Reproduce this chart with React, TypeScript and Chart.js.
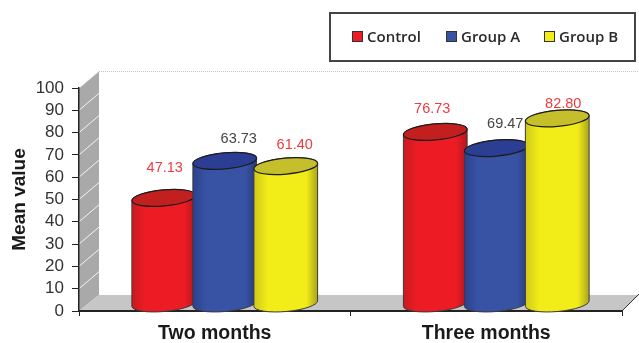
import { useEffect, useRef } from "react";
import { Chart, registerables } from "chart.js";

Chart.register(...registerables);

const categories = ["Two months", "Three months"];
const controlValues = [47.13, 76.73];
const groupAValues = [63.73, 69.47];
const groupBValues = [61.4, 82.8];
const yTicks = [0, 100];

const DEPTH_X = 20;
const DEPTH_Y = 16;
const SANS = '"Liberation Sans", Arial, sans-serif';

// Shade tables for the cylinders: edge, body, right edge, lid.
const shades: Record<string, [string, string, string, string]> = {
  "#ed1c24": ["#c81a20", "#ed1c24", "#b3161b", "#c1201f"],
  "#3953a4": ["#2b4190", "#3953a4", "#26397f", "#2c3e93"],
  "#f2ec19": ["#cfc91a", "#f2ec19", "#a8a31a", "#c4bf2a"],
};

// Value label colour and offset from the top of each cylinder, per series and category.
const labelStyle = [
  [{ c: "#ee3b3f", dx: 1, dy: -38 }, { c: "#ee3b3f", dx: -3, dy: -31 }],
  [{ c: "#444444", dx: 14, dy: -30 }, { c: "#444444", dx: 9, dy: -32 }],
  [{ c: "#ee3b3f", dx: 9, dy: -29 }, { c: "#ee3b3f", dx: 6, dy: -22 }],
];

const scenePlugin = {
  id: "scene3d",
  // Side wall, floor and back wall outline behind the axes.
  beforeDraw(chart: any) {
    const { ctx, chartArea: a, scales } = chart;
    const y = scales.y;
    ctx.save();
    ctx.fillStyle = "#a9a9a9";
    ctx.beginPath();
    ctx.moveTo(a.left, a.top);
    ctx.lineTo(a.left + DEPTH_X, a.top - 17);
    ctx.lineTo(a.left + DEPTH_X, a.bottom - DEPTH_Y);
    ctx.lineTo(a.left, a.bottom);
    ctx.closePath();
    ctx.fill();

    ctx.strokeStyle = "#f4f4f4";
    ctx.lineWidth = 1;
    y.ticks.forEach((t: any) => {
      if (t.value === 0) return;
      const py = y.getPixelForValue(t.value);
      ctx.beginPath();
      ctx.moveTo(a.left, py);
      ctx.lineTo(a.left + DEPTH_X, py - 17);
      ctx.stroke();
    });

    ctx.fillStyle = "#c6c6c6";
    ctx.beginPath();
    ctx.moveTo(a.left, a.bottom);
    ctx.lineTo(a.left + DEPTH_X, a.bottom - DEPTH_Y);
    ctx.lineTo(chart.width, a.bottom - DEPTH_Y);
    ctx.lineTo(a.right, a.bottom);
    ctx.closePath();
    ctx.fill();

    ctx.strokeStyle = "#c4c4c4";
    ctx.setLineDash([1, 1]);
    ctx.beginPath();
    ctx.moveTo(a.left + DEPTH_X, a.top - 17 + 0.5);
    ctx.lineTo(chart.width, a.top - 17 + 0.5);
    ctx.stroke();
    ctx.setLineDash([]);

    ctx.strokeStyle = "#333333";
    ctx.beginPath();
    ctx.moveTo(a.right, a.bottom);
    ctx.lineTo(chart.width, a.bottom - 17);
    ctx.stroke();
    ctx.restore();
  },
  // The flat rectangles are skipped; cylinders are painted series by series instead.
  beforeDatasetDraw() {
    return false;
  },
  // Later series sit in front of earlier ones, so paint in dataset order.
  beforeDatasetsDraw(chart: any) {
    const { ctx } = chart;
    chart.data.datasets.forEach((ds: any, index: number) => {
      const shade = shades[ds.backgroundColor];
      chart.getDatasetMeta(index).data.forEach((bar: any) => {
        const rx = (bar.width + 3) / 2;
        const ry = 8;
        const tilt = -0.09;
        const cx = bar.x + 10;
        const topCy = bar.y - ry;
        const botCy = bar.base - ry + 1;

        ctx.save();
        const grad = ctx.createLinearGradient(cx - rx, 0, cx + rx, 0);
        grad.addColorStop(0, shade[0]);
        grad.addColorStop(0.22, shade[1]);
        grad.addColorStop(0.82, shade[1]);
        grad.addColorStop(1, shade[2]);
        ctx.beginPath();
        ctx.ellipse(cx, botCy, rx, ry, tilt, 0, Math.PI);
        ctx.ellipse(cx, topCy, rx, ry, tilt, Math.PI, Math.PI * 2);
        ctx.closePath();
        ctx.fillStyle = grad;
        ctx.fill();
        ctx.strokeStyle = "#3a3a3a";
        ctx.lineWidth = 1;
        ctx.stroke();

        ctx.beginPath();
        ctx.ellipse(cx, topCy, rx, ry, tilt, 0, Math.PI * 2);
        ctx.fillStyle = shade[3];
        ctx.fill();
        ctx.strokeStyle = "#1c1c1c";
        ctx.lineWidth = 1.2;
        ctx.stroke();
        ctx.restore();
      });
    });
  },
  // Value labels above the cylinders and the boxed legend at the top right.
  afterDraw(chart: any) {
    const { ctx } = chart;
    ctx.save();
    ctx.font = `14.5px ${SANS}`;
    ctx.textAlign = "center";
    ctx.textBaseline = "middle";
    chart.data.datasets.forEach((ds: any, i: number) => {
      chart.getDatasetMeta(i).data.forEach((bar: any, j: number) => {
        const s = labelStyle[i][j];
        ctx.fillStyle = s.c;
        ctx.fillText(ds.data[j].toFixed(2), bar.x + 10 + s.dx, bar.y + s.dy);
      });
    });

    ctx.strokeStyle = "#444444";
    ctx.lineWidth = 2;
    ctx.strokeRect(330, 13, 305, 48);

    const swatchX = [352, 446, 544];
    ctx.font = `600 15px "Open Sans", sans-serif`;
    ctx.textAlign = "left";
    ctx.textBaseline = "alphabetic";
    chart.data.datasets.forEach((ds: any, i: number) => {
      ctx.fillStyle = ds.backgroundColor;
      ctx.fillRect(swatchX[i], 31, 10, 10);
      ctx.strokeStyle = "#333333";
      ctx.lineWidth = 1;
      ctx.strokeRect(swatchX[i] + 0.5, 31.5, 10, 10);
      ctx.fillStyle = "#2a2a2a";
      ctx.fillText(ds.label, swatchX[i] + 15, 41.5);
    });
    ctx.restore();
  },
};

export default function App() {
  const ref = useRef<HTMLCanvasElement>(null);

  useEffect(() => {
    const chart = new Chart(ref.current as HTMLCanvasElement, {
      type: "bar",
      data: {
        labels: categories,
        datasets: [
          { label: "Control", data: controlValues, backgroundColor: "#ed1c24" },
          { label: "Group A", data: groupAValues, backgroundColor: "#3953a4" },
          { label: "Group B", data: groupBValues, backgroundColor: "#f2ec19" },
        ],
      },
      options: {
        animation: false,
        responsive: false,
        categoryPercentage: 0.674,
        barPercentage: 1,
        layout: { padding: { top: 88, right: 17, left: 0, bottom: 0 } },
        plugins: { legend: { display: false }, tooltip: { enabled: false } },
        scales: {
          x: {
            afterFit(scale: any) {
              scale.height = 32;
            },
            border: { color: "#222222", width: 2 },
            grid: { drawOnChartArea: false, color: "#222222", tickLength: 5 },
            ticks: {
              color: "#1a1a1a",
              padding: 6,
              maxRotation: 0,
              font: { family: SANS, size: 19.5, weight: "bold" },
            },
          },
          y: {
            min: yTicks[0],
            max: yTicks[1],
            afterFit(scale: any) {
              scale.width = 79;
            },
            border: { color: "#222222", width: 1.5 },
            grid: { drawOnChartArea: false, color: "#222222", tickLength: 7 },
            ticks: {
              stepSize: 10,
              autoSkip: false,
              color: "#333333",
              padding: 8,
              font: { family: SANS, size: 17 },
            },
            title: {
              display: true,
              text: "Mean value",
              color: "#1a1a1a",
              padding: { top: 8, bottom: 0 },
              font: { family: SANS, size: 19, weight: "bold" },
            },
          },
        },
      },
      plugins: [scenePlugin],
    } as any);
    return () => chart.destroy();
  }, []);

  return (
    <div style={{ position: "absolute", left: 0, top: 0, width: 639, height: 343, background: "#fff" }}>
      <canvas ref={ref} width={639} height={343} style={{ display: "block" }} />
    </div>
  );
}
